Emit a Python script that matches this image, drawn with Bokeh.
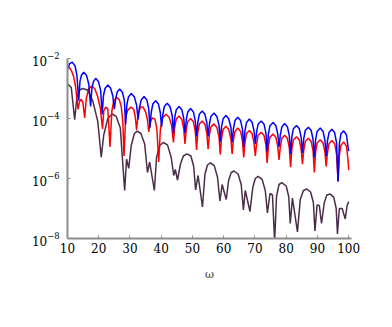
from bokeh.plotting import figure
from bokeh.models import Range1d, FixedTicker
from bokeh.embed import file_html
from bokeh.resources import INLINE
import numpy as np

# --- data (omega, log10 of value) ---
blue_w = [10.0, 10.7, 11.5, 12.4, 13.0, 13.6, 14.0, 14.5, 15.2, 16.1, 16.8, 17.4, 17.8, 18.3, 19.0, 19.9, 20.6, 21.1,
          21.5, 22.0, 22.9, 23.8, 24.5, 25.0, 25.4, 25.9, 26.7, 27.6, 28.2, 28.6, 29.0, 29.5, 30.4, 31.4, 32.1, 32.6,
          33.0, 33.6, 34.5, 35.4, 36.0, 36.4, 36.8, 37.3, 38.2, 39.1, 39.7, 40.1, 40.5, 41.0, 41.9, 42.8, 43.5, 43.9,
          44.3, 44.8, 45.7, 46.6, 47.2, 47.6, 48.0, 48.5, 49.4, 50.3, 50.9, 51.3, 51.7, 52.2, 53.1, 54.0, 54.6, 55.0,
          55.4, 55.9, 56.9, 57.8, 58.5, 58.9, 59.3, 59.8, 60.7, 61.6, 62.3, 62.7, 63.1, 63.6, 64.5, 65.4, 66.0, 66.4,
          66.8, 67.3, 68.2, 69.1, 69.7, 70.1, 70.5, 71.0, 72.0, 72.9, 73.5, 73.9, 74.3, 74.8, 75.8, 76.7, 77.3, 77.7,
          78.1, 78.6, 79.5, 80.4, 81.0, 81.4, 81.8, 82.3, 83.3, 84.2, 84.8, 85.2, 85.6, 86.1, 87.1, 88.0, 88.6, 89.0,
          89.4, 89.9, 90.9, 91.8, 92.4, 92.8, 93.2, 93.7, 94.6, 95.5, 96.1, 96.6, 97.0, 97.5, 98.4, 99.3, 99.8, 100.0]
blue_log = [-2.36, -2.17, -2.12, -2.24, -2.55, -3.41, -2.75, -2.55, -2.46, -2.57, -2.85, -3.60, -3.00, -2.77, -2.66, -2.77, -3.05, -3.86,
            -3.25, -3.00, -2.88, -2.99, -3.25, -3.69, -3.35, -3.12, -3.02, -3.13, -3.40, -4.20, -3.55, -3.28, -3.17, -3.28, -3.55, -4.03,
            -3.65, -3.38, -3.27, -3.38, -3.68, -4.31, -3.80, -3.52, -3.41, -3.52, -3.80, -4.27, -3.88, -3.60, -3.49, -3.60, -3.90, -4.50,
            -3.98, -3.71, -3.60, -3.71, -4.00, -4.50, -4.05, -3.78, -3.67, -3.78, -4.08, -4.60, -4.13, -3.86, -3.75, -3.86, -4.15, -4.60,
            -4.20, -3.93, -3.82, -3.93, -4.22, -4.77, -4.28, -4.01, -3.90, -4.01, -4.30, -4.80, -4.35, -4.07, -3.96, -4.07, -4.36, -4.95,
            -4.41, -4.13, -4.02, -4.13, -4.42, -4.85, -4.47, -4.19, -4.08, -4.19, -4.48, -5.10, -4.52, -4.24, -4.13, -4.24, -4.52, -4.95,
            -4.56, -4.28, -4.17, -4.28, -4.58, -5.18, -4.62, -4.34, -4.23, -4.34, -4.64, -5.15, -4.68, -4.40, -4.29, -4.40, -4.70, -5.30,
            -4.71, -4.43, -4.32, -4.43, -4.73, -5.26, -4.75, -4.47, -4.36, -4.47, -4.80, -6.10, -4.85, -4.52, -4.41, -4.55, -4.95, -5.09]

red_w = [10.0, 10.6, 11.3, 12.0, 12.6, 13.4, 13.8, 14.3, 14.9, 15.5, 16.0, 16.7, 17.7, 18.7, 19.6, 20.5, 21.2,
         21.6, 22.2, 22.9, 23.6, 24.2, 24.8, 25.8, 26.6, 27.2, 27.7, 28.1, 28.6, 29.3, 30.3, 31.2, 31.7, 32.1,
         32.6, 33.4, 34.2, 35.0, 35.6, 36.0, 36.5, 37.2, 38.0, 38.6, 39.2, 39.7, 40.4, 41.5, 42.5, 43.3, 43.9,
         44.3, 44.8, 45.7, 46.6, 47.2, 47.6, 48.0, 48.5, 49.4, 50.3, 50.9, 51.3, 51.7, 52.2, 53.1, 54.0, 54.6, 55.0,
         55.4, 55.9, 56.9, 57.8, 58.5, 58.9, 59.3, 59.8, 60.7, 61.6, 62.3, 62.7, 63.1, 63.6, 64.5, 65.4, 66.0, 66.4,
         66.8, 67.3, 68.2, 69.1, 69.7, 70.1, 70.5, 71.0, 72.0, 72.9, 73.5, 73.9, 74.3, 74.8, 75.8, 76.7, 77.3, 77.7,
         78.1, 78.6, 79.5, 80.4, 81.0, 81.4, 81.8, 82.3, 83.3, 84.2, 84.8, 85.2, 85.6, 86.1, 87.1, 88.0, 88.6, 89.0,
         89.4, 89.9, 90.9, 91.8, 92.4, 92.8, 93.2, 93.7, 94.6, 95.5, 96.1, 96.6, 97.0, 97.5, 98.4, 99.3, 99.8, 100.0]
red_log = [-2.27, -2.30, -2.42, -2.62, -2.95, -3.70, -3.45, -3.36, -3.45, -3.98, -3.35, -3.02, -2.92, -3.00, -3.25, -3.65, -4.35,
           -3.75, -3.62, -3.68, -4.95, -3.75, -3.42, -3.30, -3.38, -3.60, -4.10, -5.25, -3.95, -3.72, -3.62, -3.70, -3.95, -4.38,
           -3.85, -3.62, -3.62, -3.78, -4.05, -4.45, -4.10, -3.98, -4.02, -4.35, -5.45, -4.40, -3.98, -3.86, -3.95, -4.22, -4.80,
           -4.30, -4.02, -3.92, -4.03, -4.35, -4.85, -4.38, -4.10, -4.00, -4.11, -4.43, -5.05, -4.47, -4.18, -4.08, -4.19, -4.50, -5.02,
           -4.55, -4.28, -4.18, -4.29, -4.62, -5.20, -4.66, -4.37, -4.26, -4.37, -4.68, -5.18, -4.72, -4.43, -4.32, -4.43, -4.75, -5.30,
           -4.80, -4.50, -4.40, -4.51, -4.82, -5.25, -4.86, -4.56, -4.46, -4.57, -4.88, -5.48, -4.92, -4.62, -4.52, -4.63, -4.93, -5.38,
           -4.96, -4.66, -4.56, -4.67, -4.98, -5.62, -5.02, -4.72, -4.61, -4.72, -5.03, -5.52, -5.07, -4.77, -4.66, -4.77, -5.08, -5.80,
           -5.12, -4.82, -4.71, -4.82, -5.12, -5.60, -5.15, -4.84, -4.73, -4.84, -5.18, -6.10, -5.22, -4.90, -4.78, -4.93, -5.40, -5.72]

purple_w = [10.0, 11.2, 12.3, 13.0, 13.8, 14.9, 16.5, 18.1, 19.7, 20.8, 21.6, 22.9, 24.3, 25.6, 26.9, 28.3, 28.9, 29.6,
            30.4, 31.4, 32.3, 33.5, 34.7, 35.6, 36.3, 37.8, 38.5, 39.5, 40.65, 42.0, 43.2, 44.0, 44.5, 45.2, 46.2, 47.1,
            48.2, 49.5, 50.4, 51.0, 51.8, 53.2, 54.0, 54.8, 55.8, 57.0, 58.0, 58.8, 59.5, 60.8, 61.6, 62.4, 63.3, 64.6,
            65.6, 66.3, 66.9, 68.4, 69.3, 70.1, 71.0, 72.3, 73.3, 74.0, 74.8, 75.6, 76.3, 76.9, 77.7, 78.6, 80.0, 80.8,
            81.3, 82.0, 83.6, 84.5, 85.5, 86.6, 87.8, 88.7, 89.2, 89.9, 90.6, 91.3, 92.2, 93.0, 94.1, 95.2, 96.0, 96.4,
            97.0, 97.9, 98.9, 99.5, 100.0]
purple_log = [-2.84, -2.97, -4.04, -3.30, -3.05, -3.00, -3.06, -3.42, -4.10, -5.29, -4.55, -4.00, -3.85, -3.93, -4.32, -6.40, -5.35, -5.66,
              -4.90, -4.50, -4.42, -4.50, -4.85, -5.80, -5.45, -6.40, -5.30, -4.90, -4.80, -4.88, -5.30, -5.90, -5.70, -6.05, -5.50, -5.25,
              -5.18, -5.25, -5.60, -6.38, -5.90, -6.95, -5.85, -5.55, -5.48, -5.58, -5.95, -6.75, -6.20, -6.70, -6.05, -5.80, -5.75, -5.85,
              -6.20, -7.05, -6.40, -7.10, -6.30, -6.00, -5.93, -6.03, -6.40, -7.15, -6.50, -6.55, -8.10, -6.60, -6.20, -6.14, -6.25, -6.60,
              -7.50, -6.65, -7.78, -6.70, -6.40, -6.35, -6.45, -6.80, -7.75, -6.88, -6.90, -7.50, -6.80, -6.55, -6.52, -6.62, -7.00, -7.85,
              -7.00, -7.00, -7.35, -6.90, -6.77]

x_ticks = [10, 20, 30, 40, 50, 60, 70, 80, 90, 100]
y_ticks = [1e-8, 1e-6, 1e-4, 1e-2]

FONT = "DejaVu Serif"
AXIS_GRAY = "#8c8c8c"

p = figure(frame_width=284, frame_height=180, y_axis_type="log",
           x_range=Range1d(10, 100.9), y_range=Range1d(1e-8, 1e-2),
           output_backend="svg", toolbar_location=None,
           min_border_left=67, min_border_top=58, min_border_right=20, min_border_bottom=66)
p.outline_line_color = None
p.grid.visible = False
p.background_fill_color = "white"

p.line(purple_w, 10 ** np.array(purple_log), line_color="#4b2d4b", line_width=1.5)
p.line(red_w, 10 ** np.array(red_log), line_color="#ff0000", line_width=1.5)
p.line(blue_w, 10 ** np.array(blue_log), line_color="#0000ff", line_width=1.5)

p.xaxis.ticker = FixedTicker(ticks=x_ticks)
p.yaxis.ticker = FixedTicker(ticks=y_ticks)
for ax in (p.xaxis, p.yaxis):
    ax.axis_line_color = AXIS_GRAY
    ax.axis_line_width = 2
    ax.major_tick_line_color = AXIS_GRAY
    ax.major_tick_in = 3
    ax.major_tick_out = 0
    ax.minor_tick_line_color = None
    ax.major_label_text_font = FONT
    ax.major_label_text_font_size = "12px"
    ax.major_label_text_color = "black"
p.xaxis.major_label_standoff = 4
p.yaxis.major_label_standoff = 8
p.xaxis.axis_label = "ω"
p.xaxis.axis_label_text_font = FONT
p.xaxis.axis_label_text_font_style = "normal"
p.xaxis.axis_label_text_font_size = "11px"
p.xaxis.axis_label_standoff = 12

open("out.html", "w").write(file_html(p, INLINE))
